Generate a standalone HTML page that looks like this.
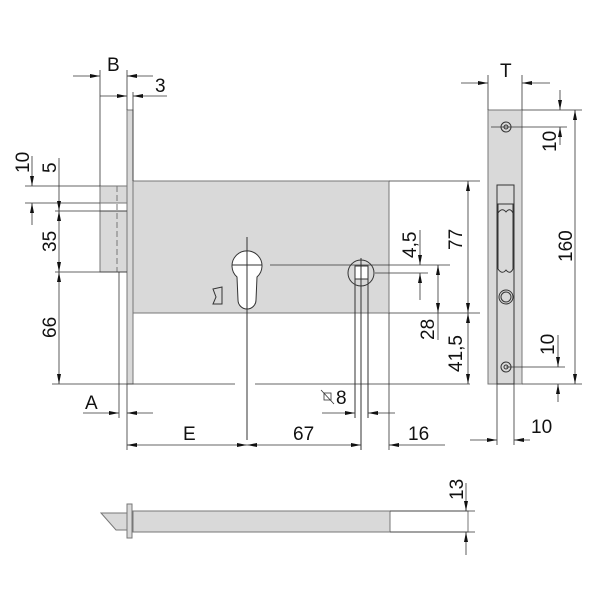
<!DOCTYPE html>
<html><head><meta charset="utf-8"><style>
html,body{margin:0;padding:0;background:#fff}
svg{display:block}
text{font-family:"Liberation Sans",sans-serif;font-size:19px;fill:#111}
</style></head><body>
<svg width="600" height="600" viewBox="0 0 600 600" xmlns="http://www.w3.org/2000/svg">
<defs>
<marker id="a" viewBox="0 0 10 4" refX="10" refY="2" markerWidth="10" markerHeight="4" orient="auto-start-reverse" markerUnits="userSpaceOnUse"><path d="M0,0 L10,2 L0,4 z" fill="#111"/></marker>
</defs>
<g fill="#d9d9d9" stroke="#777" stroke-width="1">
<rect x="127" y="110" width="6" height="274"/>
<rect x="100" y="186" width="27" height="86"/>
<rect x="133" y="181" width="256" height="132"/>
<rect x="488" y="110" width="34" height="274"/>
<rect x="133" y="511" width="257" height="21"/>
<rect x="127" y="504" width="5" height="34"/>
<polygon points="101,513 127,513 127,530 116,530"/>
</g>
<rect x="100" y="203" width="27" height="8" fill="#fff" stroke="#777"/>
<line x1="117" y1="186" x2="117" y2="272" stroke="#777" stroke-dasharray="6,3"/>
<rect x="390" y="511" width="78" height="21" fill="#fff" stroke="#777"/>
<g stroke="#333" fill="none" stroke-width="1">
<path d="M237,277 A15,15 0 1 1 257,277 L256,300 A9,9 0 0 1 238,300 Z" fill="#fff"/>
<line x1="247" y1="237" x2="247" y2="440"/>
<line x1="232" y1="265" x2="262" y2="265"/>
<circle cx="361" cy="273" r="13"/>
<rect x="355" y="266" width="13" height="13" fill="#fff"/>
<line x1="355" y1="279" x2="355" y2="418"/>
<line x1="361" y1="258" x2="361" y2="450"/>
<line x1="368" y1="279" x2="368" y2="418"/>
<path d="M213,289 L222,287 L222,304 L213,304 L216,297 Z"/>
<rect x="497" y="185" width="17" height="199"/>
<line x1="497" y1="204" x2="514" y2="204"/>
<path d="M498,213 Q502,207 506,212 Q510,207 513,213 L513,269 Q510,275 506,270 Q502,275 498,269 Z"/>
<line x1="498" y1="204" x2="498" y2="213"/><line x1="513" y1="204" x2="513" y2="213"/>
<circle cx="506" cy="127" r="5"/><circle cx="506" cy="127" r="2"/>
<circle cx="506" cy="367" r="5"/><circle cx="506" cy="367" r="2"/>
<circle cx="506" cy="297" r="7"/><circle cx="506" cy="297" r="5"/>
</g>
<g stroke="#333" stroke-width="0.8" fill="none">
<line x1="100" y1="70" x2="100" y2="186"/><line x1="127" y1="70" x2="127" y2="110"/>
<line x1="73" y1="76" x2="100" y2="76" marker-end="url(#a)"/>
<line x1="153" y1="76" x2="127" y2="76" marker-end="url(#a)"/>
<line x1="100" y1="96" x2="127" y2="96" marker-end="url(#a)"/>
<line x1="167" y1="96" x2="133" y2="96" marker-end="url(#a)"/>
<line x1="133" y1="92" x2="133" y2="181"/>
<line x1="25" y1="186" x2="100" y2="186"/>
<line x1="25" y1="203" x2="100" y2="203"/>
<line x1="55" y1="211" x2="127" y2="211"/>
<line x1="55" y1="272" x2="127" y2="272"/>
<line x1="52" y1="384" x2="235" y2="384"/>
<line x1="255" y1="384" x2="470" y2="384"/>
<line x1="32" y1="156" x2="32" y2="186" marker-end="url(#a)"/>
<line x1="32" y1="225" x2="32" y2="203" marker-end="url(#a)"/>
<line x1="59" y1="158" x2="59" y2="211" marker-end="url(#a)"/>
<line x1="59" y1="240" x2="59" y2="211" marker-end="url(#a)"/>
<line x1="59" y1="240" x2="59" y2="272" marker-end="url(#a)"/>
<line x1="59" y1="300" x2="59" y2="272" marker-end="url(#a)"/>
<line x1="59" y1="300" x2="59" y2="384" marker-end="url(#a)"/>
<line x1="119" y1="272" x2="119" y2="418"/>
<line x1="127" y1="384" x2="127" y2="450"/>
<line x1="83" y1="413" x2="119" y2="413" marker-end="url(#a)"/>
<line x1="153" y1="413" x2="127" y2="413" marker-end="url(#a)"/>
<line x1="389" y1="313" x2="389" y2="450"/>
<line x1="127" y1="445" x2="247" y2="445" marker-start="url(#a)" marker-end="url(#a)"/>
<line x1="247" y1="445" x2="361" y2="445" marker-start="url(#a)" marker-end="url(#a)"/>
<line x1="445" y1="445" x2="389" y2="445" marker-end="url(#a)"/>
<line x1="322" y1="413" x2="355" y2="413" marker-end="url(#a)"/>
<line x1="395" y1="413" x2="368" y2="413" marker-end="url(#a)"/>
<line x1="270" y1="265" x2="450" y2="265"/>
<line x1="375" y1="273" x2="428" y2="273"/>
<line x1="389" y1="313" x2="480" y2="313"/>
<line x1="389" y1="181" x2="480" y2="181"/>
<line x1="420" y1="230" x2="420" y2="265" marker-end="url(#a)"/>
<line x1="420" y1="300" x2="420" y2="273" marker-end="url(#a)"/>
<line x1="438" y1="265" x2="438" y2="313" marker-start="url(#a)" marker-end="url(#a)"/>
<line x1="438" y1="313" x2="438" y2="340"/>
<line x1="468" y1="181" x2="468" y2="313" marker-start="url(#a)" marker-end="url(#a)"/>
<line x1="468" y1="313" x2="468" y2="384" marker-start="url(#a)" marker-end="url(#a)"/>
<line x1="488" y1="75" x2="488" y2="110"/><line x1="522" y1="75" x2="522" y2="110"/>
<line x1="461" y1="83" x2="488" y2="83" marker-end="url(#a)"/>
<line x1="550" y1="83" x2="522" y2="83" marker-end="url(#a)"/>
<line x1="522" y1="110" x2="582" y2="110"/>
<line x1="491" y1="127" x2="567" y2="127"/>
<line x1="522" y1="384" x2="582" y2="384"/>
<line x1="506" y1="367" x2="565" y2="367"/>
<line x1="560" y1="90" x2="560" y2="110" marker-end="url(#a)"/>
<line x1="560" y1="145" x2="560" y2="127" marker-end="url(#a)"/>
<line x1="558" y1="335" x2="558" y2="367" marker-end="url(#a)"/>
<line x1="558" y1="402" x2="558" y2="384" marker-end="url(#a)"/>
<line x1="575" y1="110" x2="575" y2="384" marker-start="url(#a)" marker-end="url(#a)"/>
<line x1="497" y1="384" x2="497" y2="445"/><line x1="514" y1="384" x2="514" y2="445"/>
<line x1="470" y1="440" x2="497" y2="440" marker-end="url(#a)"/>
<line x1="530" y1="440" x2="514" y2="440" marker-end="url(#a)"/>
<line x1="390" y1="511" x2="475" y2="511"/>
<line x1="390" y1="532" x2="475" y2="532"/>
<line x1="466" y1="483" x2="466" y2="511" marker-end="url(#a)"/>
<line x1="466" y1="555" x2="466" y2="532" marker-end="url(#a)"/>
<rect x="324" y="393" width="7" height="7"/>
<line x1="321" y1="390" x2="334" y2="404"/>
</g>
<text x="107" y="71">B</text>
<text x="155" y="92">3</text>
<text x="85" y="409">A</text>
<text x="183" y="440">E</text>
<text x="293" y="440">67</text>
<text x="408" y="440">16</text>
<text x="336" y="404">8</text>
<text x="531" y="433">10</text>
<text x="500" y="77">T</text>
<g>
<text transform="translate(29,173) rotate(-90)">10</text>
<text transform="translate(56,173) rotate(-90)">5</text>
<text transform="translate(56,252) rotate(-90)">35</text>
<text transform="translate(56,338) rotate(-90)">66</text>
<text transform="translate(416,258) rotate(-90)">4,5</text>
<text transform="translate(462,250) rotate(-90)">77</text>
<text transform="translate(434,340) rotate(-90)">28</text>
<text transform="translate(462,372) rotate(-90)">41,5</text>
<text transform="translate(556,152) rotate(-90)">10</text>
<text transform="translate(572,262) rotate(-90)">160</text>
<text transform="translate(554,355) rotate(-90)">10</text>
<text transform="translate(463,500) rotate(-90)">13</text>
</g>
</svg>
</body></html>
